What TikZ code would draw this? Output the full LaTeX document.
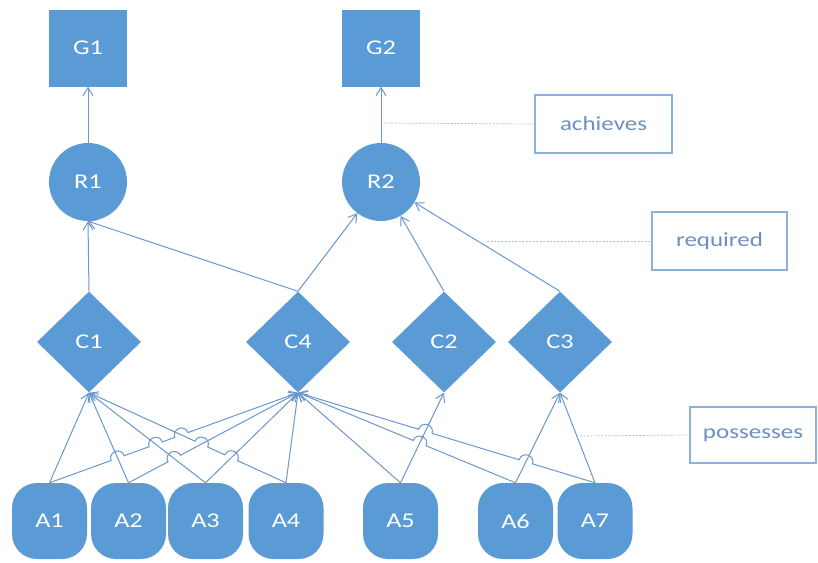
\documentclass[tikz,border=0pt]{standalone}
\usepackage{fontspec}
\setmainfont{Carlito}
\newfontfamily\lblfont[FakeStretch=1.25]{Carlito}
\usetikzlibrary{shapes.geometric,arrows.meta,intersections,calc}
\definecolor{nodeblue}{HTML}{5B9BD5}
\definecolor{lineblue}{HTML}{6A97CE}
\definecolor{labtext}{HTML}{6E8FBF}
\definecolor{labborder}{HTML}{8DB1DD}
\definecolor{leadcol}{HTML}{AFBBCF}
\begin{document}
\begin{tikzpicture}[x=1pt,y=-1pt,
  base/.style={fill=nodeblue, draw=none, inner sep=0pt, text=white, font=\lblfont\fontsize{21}{25}\selectfont},
  goal/.style={base, rectangle, minimum width=78pt, minimum height=77pt},
  role/.style={base, circle, minimum size=78pt},
  cond/.style={base, diamond, minimum width=104pt, minimum height=101pt},
  agent/.style={base, rectangle, rounded corners=25pt, minimum width=75pt, minimum height=76pt},
  conn/.style={draw=lineblue, line width=1pt, -{Straight Barb[length=8pt,width=10pt,line width=1pt]}},
  plainline/.style={draw=lineblue, line width=1pt},
  labbox/.style={rectangle, draw=labborder, line width=1.2pt, fill=white, text=labtext, inner sep=0pt, font=\lblfont\fontsize{20}{24}\selectfont},
  leader/.style={draw=leadcol, line width=0.7pt, dash pattern=on 2pt off 1.5pt}
]
\useasboundingbox (0,0) rectangle (818,562);
% nodes
\node[goal] (G1) at (88,48) {G1};
\node[goal] (G2) at (381,48) {G2};
\node[role] (R1) at (88,182) {R1};
\node[role] (R2) at (381,182) {R2};
\node[cond] (C1) at (89,342) {C1};
\node[cond] (C4) at (298,342) {C4};
\node[cond] (C2) at (444,342) {C2};
\node[cond] (C3) at (560,342) {C3};
\node[agent] (A1) at (49.5,521) {A1};
\node[agent] (A2) at (128.5,521) {A2};
\node[agent] (A3) at (205.5,521) {A3};
\node[agent] (A4) at (286,521) {A4};
\node[agent] (A5) at (400.5,521) {A5};
\node[agent] (A6) at (515.5,521) {A6};
\node[agent] (A7) at (595,521) {A7};
% label boxes
\node[labbox, minimum width=137pt, minimum height=58pt] (ach) at (603.5,124) {achieves};
\node[labbox, minimum width=135pt, minimum height=58pt] (req) at (719.5,241) {required};
\node[labbox, minimum width=126pt, minimum height=56pt] (pos) at (753,435) {possesses};
% connectors upper
\draw[conn] (R1) -- (G1);
\draw[conn] (R2) -- (G2);
\draw[conn] (C1.north) -- (R1.south);
\draw[conn] (C4.north) -- (R1.south);
\draw[conn] (C4.north) -- (R2);
\draw[conn] (C2.north) -- (R2);
\draw[conn] (C3.north) -- (R2);
% connectors lower
\draw[conn, name path=A1C1p] (A1.north) -- (C1.south);
\draw[conn, name path=A2C1p] (A2.north) -- (C1.south);
\draw[conn, name path=A3C1p] (A3.north) -- (C1.south);
\draw[conn, name path=A4C1p] (A4.north) -- (C1.south);
\draw[conn, name path=A1C4p] (A1.north) -- (C4.south);
\draw[conn, name path=A2C4p] (A2.north) -- (C4.south);
\draw[conn, name path=A3C4p] (A3.north) -- (C4.south);
\draw[conn, name path=A4C4p] (A4.north) -- (C4.south);
\draw[conn, name path=A5C4p] (A5.north) -- (C4.south);
\draw[conn, name path=A6C4p] (A6.north) -- (C4.south);
\draw[conn, name path=A7C4p] (A7.north) -- (C4.south);
\draw[conn, name path=A5C2p] (A5.north) -- (C2.south);
\draw[conn, name path=A6C3p] (A6.north) -- (C3.south);
\draw[conn, name path=A7C3p] (A7.north) -- (C3.south);
% line jumps: jumper start/end, other start/end, side
\def\jumplist{A1/C4/A2/C1/90, A1/C4/A3/C1/90, A2/C4/A3/C1/90, A1/C4/A4/C1/90,
  A4/C1/A2/C4/-90, A4/C1/A3/C4/-90, A6/C4/A5/C2/-90, A7/C4/A5/C2/-90, A7/C4/A6/C3/-90}
\foreach \ja/\jb/\oa/\ob/\sg in \jumplist{
  \path[name intersections={of=\ja\jb p and \oa\ob p, by=X}];
  \fill[white] (X) circle (8pt);
}
\foreach \ja/\jb/\oa/\ob/\sg in \jumplist{
  \path[name intersections={of=\ja\jb p and \oa\ob p, by=X}];
  \draw[plainline] ($(X)!8.5pt!(\oa.north)$) -- ($(X)!8.5pt!(\ob.south)$);
}
\foreach \ja/\jb/\oa/\ob/\sg in \jumplist{
  \path[name intersections={of=\ja\jb p and \oa\ob p, by=X}];
  \coordinate (P1) at ($(X)!7pt!(\ja.north)$);
  \coordinate (P2) at ($(X)!7pt!(\jb.south)$);
  \coordinate (N) at ($(X)!9.3pt!\sg:(\jb.south)$);
  \draw[plainline] ($(X)!8.5pt!(\ja.north)$) -- (P1)
     .. controls ($(P1)+(N)-(X)$) and ($(P2)+(N)-(X)$) .. (P2)
     -- ($(X)!8.5pt!(\jb.south)$);
}
% leaders
\coordinate (achL) at (384,123);
\coordinate (reqL) at (487,241);
\coordinate (posL) at (580,436);
\draw[leader] (achL) -- (ach.west);
\draw[leader] (reqL) -- (req.west);
\draw[leader] (posL) -- (pos.west);
\end{tikzpicture}
\end{document}
